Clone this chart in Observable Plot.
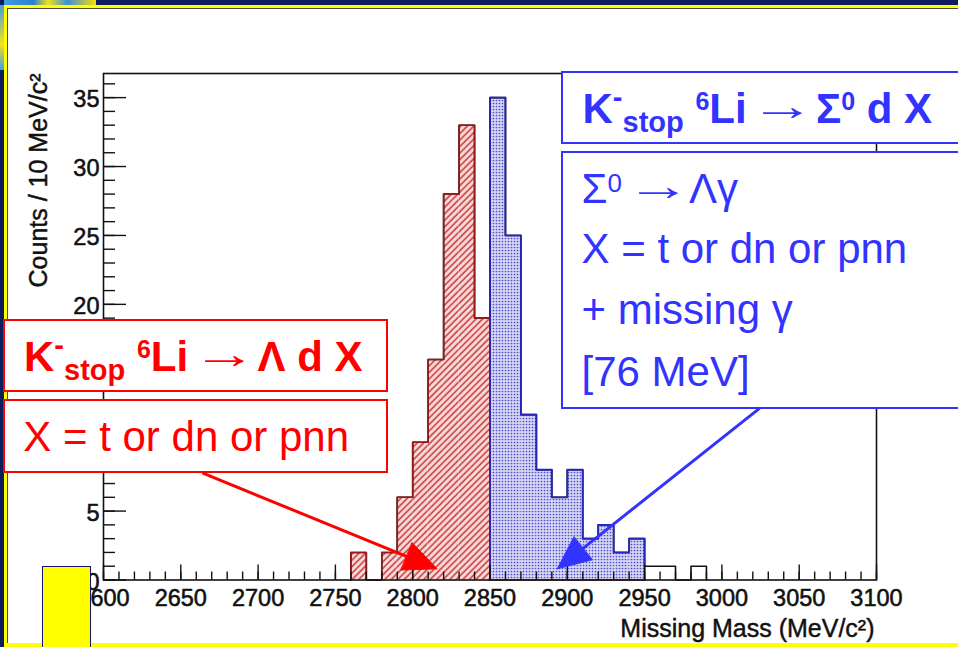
<!DOCTYPE html>
<html>
<head>
<meta charset="utf-8">
<script src="https://cdn.jsdelivr.net/npm/d3@7"></script>
<script src="https://cdn.jsdelivr.net/npm/@observablehq/plot@0.6"></script>
<style>
  body { margin: 0; background: #fff; }
  #slide { position: relative; width: 958px; height: 647px; overflow: hidden; background: #fff;
           font-family: "Liberation Sans", Arial, Helvetica, sans-serif; }
  #slide svg { position: absolute; left: 0; top: 0; }
  .abs { position: absolute; }
  .box { position: absolute; box-sizing: border-box; background: #fff; border: 2px solid; }
  .line { position: absolute; white-space: nowrap; line-height: 1; font-size: 42px; }
  .line span { position: relative; }
  .b { font-weight: bold; }
  .arrw { display: inline-block; width: 40px; text-align: center; margin: 0 3px; top: -3px; font-weight: normal; }
  .arri { display: inline-block; transform: scaleX(1.55); transform-origin: 50% 50%; }
</style>
</head>
<body>
<div id="slide"></div>
<script>
// ---------------- data ----------------
const binWidth = 10;                       // MeV per bin
const redStart = 2760;                     // K- 6Li -> Lambda d X
const redCounts = [2, 0, 2, 6, 10, 16, 28, 33, 19, 0, 0, 0, 0, 0, 0, 0, 0, 0, 0];
const blueStart = 2850;                    // K- 6Li -> Sigma0 d X
const blueCounts = [35, 25, 12, 8, 6, 8, 3, 4, 2, 3];
const totalStart = 2760;                   // all events
const totalCounts = [2, 0, 2, 6, 10, 16, 28, 33, 19, 35, 25, 12, 8, 6, 8, 3, 4, 2, 3, 1, 1, 0, 1];

const xTickLabels = [2600, 2650, 2700, 2750, 2800, 2850, 2900, 2950, 3000, 3050, 3100];
const yMajorTicks = [0, 5, 10, 15, 20, 25, 30, 35];
const yTickLabels = [0, 5, 20, 25, 30, 35];   // 10 and 15 are hidden under the red boxes
const xDomain = [2600, 3100];
const yDomain = [0, 36.75];
const xTitle = "Missing Mass (MeV/c²)";
const yTitle = "Counts / 10 MeV/c²";

// annotation arrows (data coordinates: MeV, counts)
const arrowTailX = [2664.7, 3023.9];
const arrowTailY = [7.73, 12.42];
const arrowHeadX = [2815.8, 2893.5];
const arrowHeadY = [0.81, 0.81];
const arrowColors = ["#ff0000", "#3333ff"];

// ---------------- layout ----------------
const W = 958, H = 647;
const mL = 103, mR = 82, mT = 73, mB = 67.5;
const kx = (W - mL - mR) / (xDomain[1] - xDomain[0]);
const ky = (H - mT - mB) / (yDomain[1] - yDomain[0]);

const bins = (start, counts) => counts.map((c, i) => ({x1: start + i * binWidth, x2: start + (i + 1) * binWidth, y: c}));
const steps = (start, counts) => {
  const pts = [{x: start, y: 0}];
  counts.forEach((c, i) => { pts.push({x: start + i * binWidth, y: c}, {x: start + (i + 1) * binWidth, y: c}); });
  pts.push({x: start + counts.length * binWidth, y: 0});
  return pts;
};
const redBins = bins(redStart, redCounts).filter(d => d.y > 0);
const blueBins = bins(blueStart, blueCounts);
const xMinor = d3.range(xDomain[0], xDomain[1] + 1, 10);
const yMinor = d3.range(0, 37, 1);
const arrows = arrowTailX.map((_, i) => ({x1: arrowTailX[i], y1: arrowTailY[i], x2: arrowHeadX[i], y2: arrowHeadY[i], c: arrowColors[i]}));

const tickText = {fontSize: 23.5, fill: "#111", stroke: "#111", strokeWidth: 0.55};

const chart = Plot.plot({
  width: W, height: H,
  marginLeft: mL, marginRight: mR, marginTop: mT, marginBottom: mB,
  x: {domain: xDomain, axis: null},
  y: {domain: yDomain, axis: null},
  color: {type: "identity"},
  style: {fontFamily: "'Liberation Sans', Arial, Helvetica, sans-serif", background: "transparent", overflow: "visible"},
  marks: [
    Plot.rectY(redBins, {x1: "x1", x2: "x2", y: "y", fill: "url(#hatchRed)"}),
    Plot.rectY(blueBins, {x1: "x1", x2: "x2", y: "y", fill: "url(#dotBlue)"}),
    Plot.line(steps(totalStart, totalCounts), {x: "x", y: "y", stroke: "#111", strokeWidth: 1.6}),
    Plot.line(steps(redStart, redCounts), {x: "x", y: "y", stroke: "#951c1c", strokeWidth: 1.6}),
    Plot.line(steps(blueStart, blueCounts), {x: "x", y: "y", stroke: "#2626b8", strokeWidth: 1.8}),
    // inward ROOT-style ticks
    Plot.ruleX(xMinor, {x: d => d, y1: 0, y2: 8 / ky, stroke: "#111", strokeWidth: 1.4}),
    Plot.ruleX(xTickLabels, {x: d => d, y1: 0, y2: 15 / ky, stroke: "#111", strokeWidth: 1.4}),
    Plot.ruleY(yMinor, {y: d => d, x1: xDomain[0], x2: xDomain[0] + 12 / kx, stroke: "#111", strokeWidth: 1.4}),
    Plot.ruleY(yMajorTicks, {y: d => d, x1: xDomain[0], x2: xDomain[0] + 23 / kx, stroke: "#111", strokeWidth: 1.4}),
    Plot.frame({stroke: "#111", strokeWidth: 1.6}),
    // tick labels
    Plot.text(xTickLabels, {x: d => d, y: 0, dy: 18, text: d => String(d), ...tickText, lineAnchor: "middle"}),
    Plot.text(yTickLabels, {x: xDomain[0], y: d => d, dx: -4, dy: 2, text: d => String(d), ...tickText,
      textAnchor: "end", lineAnchor: "middle"}),
    // axis titles
    Plot.text([xTitle], {frameAnchor: "bottom-right", dx: -2, dy: 57, text: d => d, fontSize: 25, fill: "#111",
      stroke: "#111", strokeWidth: 0.45, textAnchor: "end", lineAnchor: "bottom"}),
    Plot.text([yTitle], {frameAnchor: "top-left", dx: -57, dy: 0, text: d => d, fontSize: 25, fill: "#111",
      stroke: "#111", strokeWidth: 0.45, rotate: -90, textAnchor: "end", lineAnchor: "bottom"}),
    Plot.arrow(arrows, {x1: "x1", y1: "y1", x2: "x2", y2: "y2", stroke: "c", strokeWidth: 3, headLength: 18, headAngle: 48})
  ]
});

// patterns for hatched / dotted fills
const defs = d3.select(chart).insert("defs", ":first-child");
const hp = defs.append("pattern").attr("id", "hatchRed").attr("patternUnits", "userSpaceOnUse")
  .attr("width", 4.6).attr("height", 4.6).attr("patternTransform", "rotate(45)");
hp.append("rect").attr("width", 4.6).attr("height", 4.6).attr("fill", "#fbd8d8");
hp.append("line").attr("x1", 1).attr("y1", 0).attr("x2", 1).attr("y2", 4.6).attr("stroke", "#c43a3a").attr("stroke-width", 1.5);
const dp = defs.append("pattern").attr("id", "dotBlue").attr("patternUnits", "userSpaceOnUse")
  .attr("width", 3).attr("height", 3);
dp.append("rect").attr("width", 3).attr("height", 3).attr("fill", "#d6d6f6");
dp.append("circle").attr("cx", 1.5).attr("cy", 1.5).attr("r", 0.85).attr("fill", "#4a4ac4");

// turn the arrow heads into filled triangles (points taken from Plot's own arrow paths)
d3.select(chart).selectAll('g[aria-label="arrow"] path').each(function () {
  const d = this.getAttribute("d") || "";
  const n = (d.match(/-?\d*\.?\d+(?:e[-+]?\d+)?/gi) || []).map(Number);
  if (n.length === 10) {
    const col = this.getAttribute("stroke") || d3.select(this.parentNode).attr("stroke");
    const [x1, y1, x2, y2, ax, ay, , , bx, by] = n;
    const len = Math.hypot(x2 - x1, y2 - y1);
    const ex = x2 - (x2 - x1) / len * 10, ey = y2 - (y2 - y1) / len * 10;
    this.setAttribute("d", `M${x1},${y1}L${ex},${ey}`);
    d3.select(this.parentNode).append("path")
      .attr("d", `M${ax},${ay}L${x2},${y2}L${bx},${by}Z`)
      .attr("fill", col).attr("stroke", col).attr("stroke-width", 1).attr("stroke-linejoin", "miter");
  }
});

const slide = document.getElementById("slide");
slide.appendChild(chart);

// ---------------- slide decorations and text boxes ----------------
const arrowGlyph = `<span class="arrw"><span class="arri">→</span></span>`;
const html = `
  <div class="abs" style="left:0;top:0;width:958px;height:5px;background:#0b1d5c"></div>
  <div class="abs" style="left:0;top:0;width:96px;height:6px;background:linear-gradient(90deg,#3f9fe4 0%,#2a7fd0 35%,#f2e21a 50%,#3a8fdc 70%,#f5e000 100%)"></div>
  <div class="abs" style="left:0;top:0;width:4px;height:647px;background:#0b1d5c"></div>
  <div class="abs" style="left:0;top:5px;width:4px;height:65px;background:linear-gradient(180deg,#3f9fe4,#f2e21a 60%,#3f9fe4)"></div>
  <div class="abs" style="left:4px;top:5px;width:954px;height:2.5px;background:#ffff00"></div>
  <div class="abs" style="left:4px;top:5px;width:2.5px;height:642px;background:#ffff00"></div>
  <div class="abs" style="left:6.5px;top:7.5px;width:952px;height:1px;background:#4a4a3a"></div>
  <div class="abs" style="left:6.5px;top:7.5px;width:1px;height:640px;background:#4a4a3a"></div>
  <div class="abs" style="left:4px;top:643px;width:954px;height:4px;background:#ffff00"></div>
  <div class="abs" style="left:41.5px;top:566px;width:49px;height:90px;box-sizing:border-box;background:#ffff00;border:1.5px solid #14146e"></div>

  <div class="box" style="left:561px;top:71px;width:420px;height:73px;border-color:#3333ff"></div>
  <div class="line b" style="left:582.5px;top:87.7px;color:#3333ff">K<span style="font-size:29px;top:-16px">-</span><span style="font-size:29px;top:9px">stop</span> <span style="font-size:25px;top:-13px">6</span>Li ${arrowGlyph} Σ<span style="font-size:25px;top:-13px">0</span> d X</div>

  <div class="box" style="left:561px;top:151px;width:420px;height:258px;border-color:#3333ff"></div>
  <div class="line" style="left:581.5px;top:167.7px;color:#3333ff">Σ<span style="font-size:26px;top:-11px">0</span> ${arrowGlyph} Λγ</div>
  <div class="line" style="left:581.5px;top:228.4px;color:#3333ff">X = t or dn or pnn</div>
  <div class="line" style="left:581.5px;top:289.4px;color:#3333ff">+ missing γ</div>
  <div class="line" style="left:581.5px;top:351.1px;color:#3333ff">[76 MeV]</div>

  <div class="box" style="left:2.5px;top:319px;width:385px;height:73px;border-color:#ff0000"></div>
  <div class="line b" style="left:24px;top:336.1px;color:#ff0000">K<span style="font-size:29px;top:-16px">-</span><span style="font-size:29px;top:9px">stop</span> <span style="font-size:25px;top:-13px">6</span>Li ${arrowGlyph} Λ d X</div>

  <div class="box" style="left:2.5px;top:399px;width:385px;height:74px;border-color:#ff0000"></div>
  <div class="line" style="left:23.3px;top:416.1px;color:#ff0000">X = t or dn or pnn</div>
`;
slide.insertAdjacentHTML("beforeend", html);
</script>
</body>
</html>
